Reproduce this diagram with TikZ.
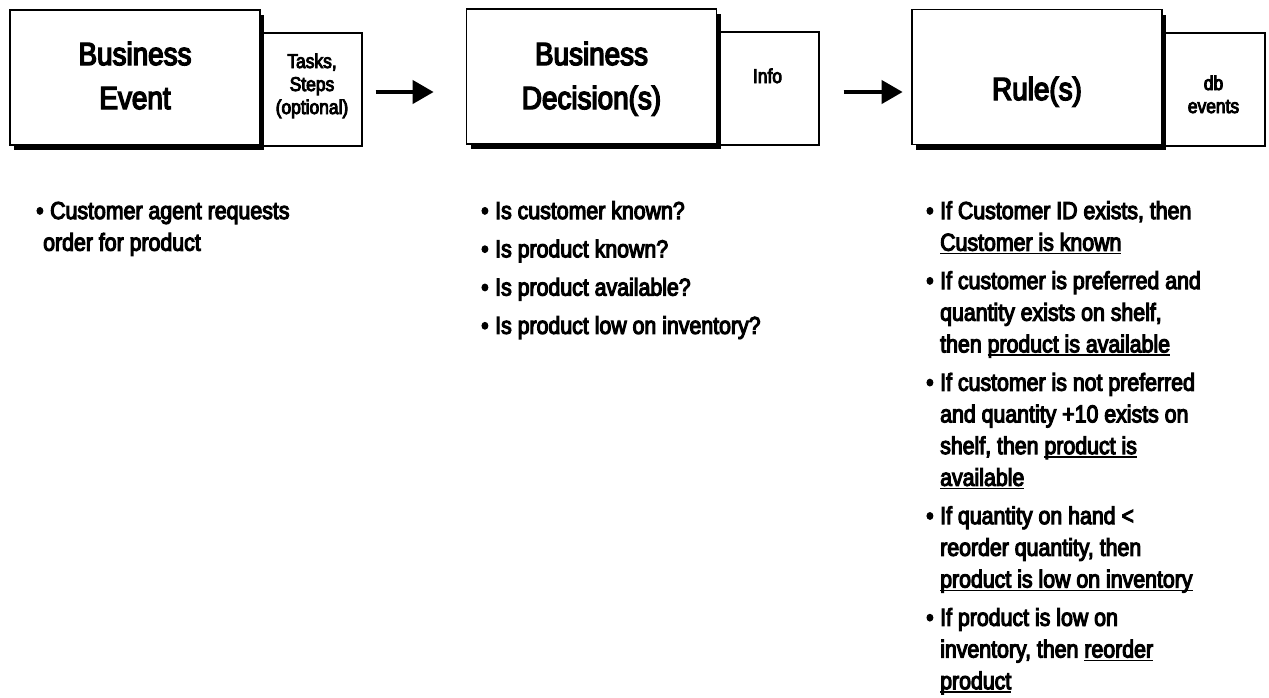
\documentclass[tikz,border=0pt]{standalone}
\usepackage{fontspec}
\setmainfont{Liberation Sans}[FakeStretch=0.87,FakeBold=4.5]
\usetikzlibrary{arrows.meta,shadows}

% underline that sits a little below the baseline
\newcommand\ulx[1]{\setbox0\hbox{#1}\rlap{\rule[-3.6pt]{\wd0}{1.6pt}}\box0}
\newcommand\bodyfont{\fontsize{24.5}{31.7}\selectfont}
\newcommand\titlefont{\fontsize{32}{44}\selectfont}
\newcommand\smallfont{\fontsize{20}{23}\selectfont}
% centred stack whose baseline is the first line
\newcommand\tstack[1]{\begin{tabular}[t]{@{}c@{}}#1\end{tabular}}
% bullet followed by a top-aligned block of lines
\newcommand\bitem[1]{\makebox[14pt][l]{\textbullet}\parbox[t]{330pt}{#1}}

\tikzset{
  mainbox/.style={draw, line width=1.5pt, fill=white, minimum width=250pt,
    minimum height=135pt, inner sep=0pt,
    drop shadow={shadow xshift=4pt, shadow yshift=-5pt, fill=black, opacity=1}},
  sidebox/.style={draw, line width=1.3pt, fill=white, minimum width=104pt,
    minimum height=113pt, inner sep=0pt},
  title/.style={font=\titlefont, inner sep=0pt, anchor=base},
  small/.style={font=\smallfont, inner sep=0pt, anchor=base},
  body/.style={font=\bodyfont, inner sep=0pt, anchor=base west},
  bigarrow/.style={line width=4pt, -{Triangle[length=21pt, width=23pt]}},
}

\begin{document}
\begin{tikzpicture}[x=1pt, y=-1pt]
\useasboundingbox (0,0) rectangle (1269,697);

% side boxes first, so the shadowed main boxes overlap their left edges
\node[sidebox] (tasks) at (310,89.5) {};
\node[sidebox] (info)  at (767,88.5) {};
\node[sidebox] (dbev)  at (1213,89.5) {};

\node[mainbox] (event) at (135,77.5) {};
\node[mainbox] (decis) at (591.5,76.5) {};
\node[mainbox] (rules) at (1037,77) {};

% box captions
\node[title] (eventtxt) at (135,65) {\tstack{Business\\Event}};
\node[title] (decistxt) at (591.5,65) {\tstack{Business\\Decision(s)}};
\node[title] (rulestxt) at (1037,100) {Rule(s)};

\node[small] (taskstxt) at (312,68) {\tstack{Tasks,\\Steps\\(optional)}};
\node[small] (infotxt)  at (767.5,83) {Info};
\node[small] (dbevtxt)  at (1213.5,90) {\tstack{db\\events}};

% flow arrows
\draw[bigarrow] ([xshift=13pt,yshift=-2.5pt]tasks.east) -- ++(58,0);
\draw[bigarrow] ([xshift=24pt,yshift=-3.5pt]info.east) -- ++(59,0);

% business event
\node[body] (ev1) at (36,219) {\bitem{Customer agent requests\\\hspace*{-7pt}order for product}};

% business decisions
\node[body] (dc1) at (481,219)   {\bitem{Is customer known?}};
\node[body] (dc2) at (481,257.3) {\bitem{Is product known?}};
\node[body] (dc3) at (481,295.6) {\bitem{Is product available?}};
\node[body] (dc4) at (481,333.9) {\bitem{Is product low on inventory?}};

% rules
\node[body] (ru1) at (926,219) {\bitem{If Customer ID exists, then\\
  \ulx{Customer is known}}};
\node[body] (ru2) at (926,289) {\bitem{If customer is preferred and\\
  quantity exists on shelf,\\ then \ulx{product is available}}};
\node[body] (ru3) at (926,390.7) {\bitem{If customer is not preferred\\
  and quantity +10 exists on\\ shelf, then \ulx{product is}\\ \ulx{available}}};
\node[body] (ru4) at (926,524.1) {\bitem{If quantity on hand <\\
  reorder quantity, then\\ \ulx{product is low on inventory}}};
\node[body] (ru5) at (926,625.8) {\bitem{If product is low on\\
  inventory, then \ulx{reorder}\\ \ulx{product}}};
\end{tikzpicture}
\end{document}
